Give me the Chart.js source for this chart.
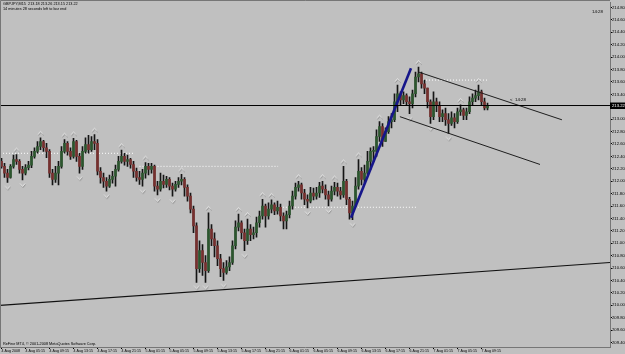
<!DOCTYPE html>
<html>
<head>
<meta charset="utf-8">
<script src="https://cdn.jsdelivr.net/npm/chart.js@4.4.1/dist/chart.umd.min.js"></script>
<style>
    html, body { margin: 0; padding: 0; background: #c0c0c0; overflow: hidden; }
</style>
</head>
<body>
<canvas id="price_chart" width="625" height="354"></canvas>
<script>
// GBPJPY M15 bars, 4 Aug 2008 -> 7 Aug 2008
const symbol = 'GBPJPY,M15';

const opens = [
    212.32, 212.24, 212.13, 212.06, 212.24, 212.35, 212.32, 212.19, 212.13, 212.22,
    212.26, 212.40, 212.48, 212.56, 212.64, 212.54, 212.48, 212.13, 212.03, 212.13,
    212.24, 212.48, 212.61, 212.48, 212.40, 212.64, 212.40, 212.24, 212.48, 212.59,
    212.51, 212.64, 212.61, 212.16, 212.06, 212.00, 211.92, 212.03, 212.08, 212.19,
    212.32, 212.40, 212.32, 212.35, 212.27, 212.16, 212.06, 212.03, 212.13, 212.24,
    212.19, 212.24, 211.92, 211.87, 212.00, 211.95, 212.03, 211.92, 211.87, 211.95,
    212.00, 212.03, 211.90, 211.76, 211.55, 211.28, 210.59, 210.88, 210.69, 210.56,
    211.23, 211.07, 210.96, 210.75, 210.59, 210.53, 210.62, 210.69, 210.96, 211.26,
    211.33, 211.17, 211.04, 211.23, 211.14, 211.17, 211.33, 211.44, 211.60, 211.44,
    211.55, 211.62, 211.52, 211.58, 211.44, 211.36, 211.46, 211.60, 211.76, 211.90,
    211.94, 211.81, 211.71, 211.68, 211.81, 211.76, 211.81, 211.92, 211.87, 211.78,
    211.71, 211.84, 211.90, 211.84, 211.78, 212.00, 211.71, 211.49, 211.60, 211.92,
    212.16, 212.03, 212.13, 212.32, 212.48, 212.48, 212.72, 212.88, 212.64, 212.80,
    212.96, 212.99, 213.28, 213.41, 213.31, 213.38, 213.28, 213.25, 213.41, 213.68,
    213.73, 213.57, 213.50, 213.28, 213.04, 213.28, 213.22, 213.04, 213.09, 212.99,
    212.93, 213.02, 212.96, 213.12, 213.15, 213.06, 213.12, 213.28, 213.34, 213.38,
    213.44, 213.28, 213.18
];

const highs = [
    212.37, 212.29, 212.19, 212.27, 212.42, 212.43, 212.35, 212.24, 212.27, 212.32,
    212.48, 212.54, 212.64, 212.70, 212.66, 212.61, 212.51, 212.19, 212.24, 212.32,
    212.56, 212.67, 212.64, 212.54, 212.69, 212.66, 212.45, 212.56, 212.70, 212.74,
    212.72, 212.75, 212.67, 212.22, 212.13, 212.06, 212.10, 212.16, 212.26, 212.40,
    212.50, 212.45, 212.42, 212.37, 212.32, 212.21, 212.16, 212.19, 212.30, 212.29,
    212.29, 212.26, 212.00, 212.13, 212.10, 212.08, 212.06, 211.97, 212.00, 212.06,
    212.11, 212.06, 211.94, 211.81, 211.60, 211.33, 211.04, 210.98, 210.80, 211.49,
    211.30, 211.17, 211.04, 210.82, 210.69, 210.72, 210.78, 211.04, 211.36, 211.47,
    211.36, 211.23, 211.39, 211.30, 211.26, 211.42, 211.52, 211.71, 211.63, 211.65,
    211.70, 211.65, 211.68, 211.63, 211.49, 211.52, 211.68, 211.84, 211.97, 212.00,
    211.97, 211.87, 211.78, 211.90, 211.89, 211.90, 211.98, 212.00, 211.94, 211.84,
    211.92, 211.98, 211.97, 211.90, 212.24, 212.03, 211.74, 211.68, 212.06, 212.35,
    212.22, 212.26, 212.48, 212.54, 212.56, 212.83, 212.96, 212.93, 212.86, 213.04,
    213.09, 213.41, 213.55, 213.44, 213.44, 213.41, 213.36, 213.47, 213.76, 213.84,
    213.76, 213.63, 213.50, 213.31, 213.44, 213.34, 213.28, 213.15, 213.18, 213.09,
    213.12, 213.09, 213.18, 213.23, 213.18, 213.18, 213.36, 213.41, 213.47, 213.55,
    213.47, 213.34, 213.26
];

const lows = [
    212.21, 212.06, 211.98, 212.05, 212.21, 212.27, 212.13, 212.02, 212.10, 212.18,
    212.22, 212.37, 212.45, 212.51, 212.48, 212.38, 212.06, 211.94, 211.98, 211.94,
    212.21, 212.45, 212.42, 212.35, 212.37, 212.32, 212.13, 212.19, 212.45, 212.45,
    212.48, 212.51, 212.10, 211.97, 211.90, 211.84, 211.90, 211.97, 211.92, 212.16,
    212.29, 212.26, 212.24, 212.21, 212.06, 212.00, 211.95, 211.92, 212.05, 212.10,
    212.13, 211.84, 211.78, 211.84, 211.89, 211.90, 211.86, 211.76, 211.84, 211.90,
    211.94, 211.76, 211.68, 211.49, 211.17, 210.37, 210.53, 210.48, 210.37, 210.53,
    210.96, 210.78, 210.64, 210.46, 210.40, 210.50, 210.56, 210.66, 210.91, 211.20,
    211.07, 210.88, 210.98, 211.04, 211.07, 211.10, 211.26, 211.39, 211.26, 211.39,
    211.49, 211.46, 211.47, 211.36, 211.23, 211.23, 211.41, 211.55, 211.71, 211.84,
    211.71, 211.62, 211.57, 211.65, 211.70, 211.71, 211.74, 211.81, 211.71, 211.60,
    211.68, 211.78, 211.76, 211.71, 211.74, 211.62, 211.39, 211.38, 211.60, 211.87,
    211.94, 211.97, 212.10, 212.19, 212.32, 212.40, 212.64, 212.56, 212.67, 212.77,
    212.86, 212.96, 213.12, 213.22, 213.25, 213.22, 213.09, 213.18, 213.36, 213.60,
    213.50, 213.41, 213.18, 212.93, 212.99, 213.12, 212.96, 212.96, 212.90, 212.77,
    212.90, 212.86, 212.93, 213.06, 212.99, 212.99, 213.09, 213.22, 213.28, 213.31,
    213.22, 213.15, 213.15
];

const closes = [
    212.24, 212.13, 212.06, 212.24, 212.35, 212.32, 212.19, 212.13, 212.22, 212.26,
    212.40, 212.48, 212.56, 212.64, 212.54, 212.48, 212.13, 212.03, 212.13, 212.24,
    212.48, 212.61, 212.48, 212.40, 212.64, 212.40, 212.24, 212.48, 212.59, 212.51,
    212.64, 212.61, 212.16, 212.06, 212.00, 211.92, 212.03, 212.08, 212.19, 212.32,
    212.40, 212.32, 212.35, 212.27, 212.16, 212.06, 212.03, 212.13, 212.24, 212.19,
    212.24, 211.92, 211.87, 212.00, 211.95, 212.03, 211.92, 211.87, 211.95, 212.00,
    212.03, 211.90, 211.76, 211.55, 211.28, 210.59, 210.88, 210.69, 210.56, 211.23,
    211.07, 210.96, 210.75, 210.59, 210.53, 210.62, 210.69, 210.96, 211.26, 211.33,
    211.17, 211.04, 211.23, 211.14, 211.17, 211.33, 211.44, 211.60, 211.44, 211.55,
    211.62, 211.52, 211.58, 211.44, 211.36, 211.46, 211.60, 211.76, 211.90, 211.94,
    211.81, 211.71, 211.68, 211.81, 211.76, 211.81, 211.92, 211.87, 211.78, 211.71,
    211.84, 211.90, 211.84, 211.78, 212.00, 211.71, 211.49, 211.60, 211.92, 212.16,
    212.03, 212.13, 212.32, 212.48, 212.48, 212.72, 212.88, 212.64, 212.80, 212.96,
    212.99, 213.28, 213.41, 213.31, 213.38, 213.28, 213.25, 213.41, 213.68, 213.73,
    213.57, 213.50, 213.28, 213.04, 213.28, 213.22, 213.04, 213.09, 212.99, 212.93,
    213.02, 212.96, 213.12, 213.15, 213.06, 213.12, 213.28, 213.34, 213.38, 213.44,
    213.28, 213.18, 213.22
];

// time axis labels, one every 8 bars
const xTickLabels = [
    '4 Aug 2008', '4 Aug 05:15', '4 Aug 09:15', '4 Aug 13:15', '4 Aug 17:15', '4 Aug 21:15',
    '5 Aug 01:15', '5 Aug 05:15', '5 Aug 09:15', '5 Aug 13:15', '5 Aug 17:15', '5 Aug 21:15',
    '6 Aug 01:15', '6 Aug 05:15', '6 Aug 09:15', '6 Aug 13:15', '6 Aug 17:15', '6 Aug 21:15',
    '7 Aug 01:15', '7 Aug 05:15', '7 Aug 09:15'
];
const barsPerLabel = 8;

// price axis labels
const yTickValues = [
    214.80, 214.60, 214.40, 214.20, 214.00, 213.80, 213.60, 213.40, 213.20, 213.00,
    212.80, 212.60, 212.40, 212.20, 212.00, 211.80, 211.60, 211.40, 211.20, 211.00,
    210.80, 210.60, 210.40, 210.20, 210.00, 209.80, 209.60, 209.40
];

// drawn objects: [bar index, price] end points
const blueTrend = [[116.5, 211.41], [136.5, 213.82]];
const channelUpper = [[139.0, 213.76], [186.8, 212.99]];
const channelLower = [[132.8, 213.04], [179.5, 212.27]];
const supportLine = [[-0.5, 210.00], [202.83, 210.69]];
// dotted day levels: [from bar, to bar, price]
const dayLevels = [
    [-0.5, 44.5, 212.45],
    [46.0, 92.2, 212.24],
    [92.8, 138.8, 211.58],
    [139.5, 162.2, 213.63]
];
const countdown = '14:28';

const BG = '#c0c0c0';
const FONT = 'Liberation Sans';
const lastIdx = closes.length - 1;

function linePoints(pts) {
    return pts.map(p => ({ x: p[0], y: p[1] }));
}

// Bill Williams fractals from the highs/lows
function fractals(arr, up) {
    const out = [];
    for (let i = 2; i < arr.length - 2; i++) {
        const v = arr[i];
        const ok = up
            ? v > arr[i - 1] && v > arr[i - 2] && v > arr[i + 1] && v > arr[i + 2]
            : v < arr[i - 1] && v < arr[i - 2] && v < arr[i + 1] && v < arr[i + 2];
        if (ok) out.push({ x: i, y: v });
    }
    return out;
}

function makeArrow(up) {
    const c = document.createElement('canvas');
    c.width = 7; c.height = 18;
    const g = c.getContext('2d');
    g.lineWidth = 1;
    // light arrow with a darker shade, like the terminal's wingdings glyph
    g.strokeStyle = '#8e8e8e';
    g.beginPath();
    if (up) { g.moveTo(1.5, 6.5); g.lineTo(4, 3.5); g.lineTo(6.5, 6.5); }
    else { g.moveTo(1.5, 13.5); g.lineTo(4, 16.5); g.lineTo(6.5, 13.5); }
    g.stroke();
    g.strokeStyle = '#e6e6e6';
    g.beginPath();
    if (up) { g.moveTo(1, 5.5); g.lineTo(3.5, 2.5); g.lineTo(6, 5.5); }
    else { g.moveTo(1, 12.5); g.lineTo(3.5, 15.5); g.lineTo(6, 12.5); }
    g.stroke();
    return c;
}

const wickData = [];
const bodyData = [];
const bodyColors = [];
for (let i = 0; i < closes.length; i++) {
    const lo = Math.min(lows[i], opens[i], closes[i]);
    const hi = Math.max(highs[i], opens[i], closes[i]);
    wickData.push({ x: i, y: [lo, hi] });
    bodyData.push({ x: i, y: [opens[i], closes[i]] });
    bodyColors.push(closes[i] >= opens[i] ? '#2c562e' : '#76302e');
}

const datasets = [];
dayLevels.forEach(l => {
    datasets.push({
        type: 'line', data: [{ x: l[0], y: l[2] }, { x: l[1], y: l[2] }],
        borderColor: '#ffffff', borderWidth: 1, borderDash: [1, 2],
        pointRadius: 0, order: 9
    });
});
datasets.push({
    type: 'bar', data: wickData, backgroundColor: '#151515',
    barThickness: 1, grouped: false, order: 8
});
datasets.push({
    type: 'bar', data: bodyData, backgroundColor: bodyColors,
    barThickness: 2, minBarLength: 1, grouped: false, order: 7
});
datasets.push({
    type: 'line', data: fractals(highs, true), showLine: false,
    pointStyle: makeArrow(true), order: 6
});
datasets.push({
    type: 'line', data: fractals(lows, false), showLine: false,
    pointStyle: makeArrow(false), order: 6
});
[channelUpper, channelLower].forEach(l => {
    datasets.push({
        type: 'line', data: linePoints(l), borderColor: '#1e1e1e',
        borderWidth: 1, pointRadius: 0, order: 4
    });
});
datasets.push({
    type: 'line', data: linePoints(supportLine), borderColor: '#111111',
    borderWidth: 1.2, pointRadius: 0, order: 4
});
datasets.push({
    type: 'line', data: linePoints(blueTrend), borderColor: '#16168a',
    borderWidth: 2.6, pointRadius: 0, order: 3
});
// bid line
datasets.push({
    type: 'line', data: [{ x: -0.5, y: closes[lastIdx] }, { x: 202.83, y: closes[lastIdx] }],
    borderColor: '#000000', borderWidth: 1, pointRadius: 0, order: 2
});

// background + text overlays
const terminalPlugin = {
    id: 'terminal',
    beforeDraw(chart) {
        const ctx = chart.ctx;
        ctx.save();
        ctx.fillStyle = BG;
        ctx.fillRect(0, 0, chart.width, chart.height);
        ctx.restore();
    },
    afterDraw(chart) {
        const ctx = chart.ctx;
        const area = chart.chartArea;
        const x = chart.scales.x;
        const y = chart.scales.y;
        ctx.save();
        // window edges
        ctx.strokeStyle = '#767676';
        ctx.lineWidth = 1;
        ctx.beginPath();
        ctx.moveTo(0.5, area.bottom); ctx.lineTo(0.5, 0.5); ctx.lineTo(area.right, 0.5);
        ctx.stroke();

        ctx.fillStyle = '#000';
        ctx.textBaseline = 'middle';
        ctx.font = '3.8px "' + FONT + '"';
        const f = v => v.toFixed(2);
        ctx.fillText(symbol + '  ' + f(opens[lastIdx]) + ' ' + f(highs[lastIdx]) + ' ' +
            f(lows[lastIdx]) + ' ' + f(closes[lastIdx]), 3, 4);
        ctx.fillText('14 minutes 28 seconds left to bar end', 3, 8.5);
        ctx.fillText('ReFine MT4, \u00a9 2001-2008 MetaQuotes Software Corp.', 3, 344);

        ctx.font = '4.4px "' + FONT + '"';
        ctx.textAlign = 'right';
        ctx.fillText(countdown, area.right - 7, 12);
        ctx.textAlign = 'left';
        ctx.fillText('<  ' + countdown, x.getPixelForValue(lastIdx + 7.5), y.getPixelForValue(closes[lastIdx]) - 6);

        // current price box
        const py = y.getPixelForValue(closes[lastIdx]);
        ctx.fillStyle = '#000';
        ctx.fillRect(area.right, py - 3, chart.width - area.right, 6.5);
        ctx.fillStyle = '#fff';
        ctx.font = '4.2px "' + FONT + '"';
        ctx.fillText(f(closes[lastIdx]), area.right + 2, py + 0.3);
        ctx.restore();
    }
};

const yTop = 214.88;
const yBottom = 209.328;

new Chart(document.getElementById('price_chart'), {
    type: 'bar',
    data: { datasets: datasets },
    plugins: [terminalPlugin],
    options: {
        responsive: false,
        animation: false,
        devicePixelRatio: 1,
        events: [],
        layout: { padding: 0, autoPadding: false },
        plugins: { legend: { display: false }, tooltip: { enabled: false } },
        scales: {
            x: {
                type: 'linear',
                offset: false,
                min: -0.5,
                max: 202.83,
                afterBuildTicks: s => { s.ticks = xTickLabels.map((_, k) => ({ value: k * barsPerLabel })); },
                afterFit: s => { s.height = 7; },
                ticks: {
                    autoSkip: false, maxRotation: 0, minRotation: 0, align: 'start', padding: 0,
                    color: '#000', font: { family: FONT, size: 3.6 },
                    callback: v => xTickLabels[Math.round(v / barsPerLabel)] || ''
                },
                grid: { drawOnChartArea: false, offset: false, tickLength: 2, color: '#000' },
                border: { color: '#767676' }
            },
            y: {
                position: 'right',
                min: yBottom,
                max: yTop,
                afterBuildTicks: s => { s.ticks = yTickValues.map(v => ({ value: v })); },
                afterFit: s => { s.width = 15; },
                ticks: {
                    autoSkip: false, padding: 0, color: '#000',
                    font: { family: FONT, size: 4.2 },
                    callback: v => v.toFixed(2)
                },
                grid: { drawOnChartArea: false, tickLength: 2, color: '#000' },
                border: { color: '#767676' }
            }
        }
    }
});
</script>
</body>
</html>
